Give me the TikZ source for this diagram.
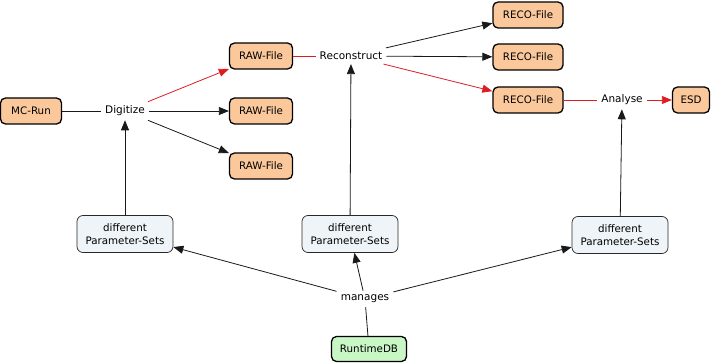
\documentclass[tikz,border=0pt]{standalone}
\usepackage{fontspec}
\setmainfont{DejaVu Sans}
\usetikzlibrary{arrows.meta}
\definecolor{filefill}{RGB}{250,200,155}
\definecolor{paramfill}{RGB}{238,244,247}
\definecolor{dbfill}{RGB}{200,246,196}
\definecolor{redline}{RGB}{220,30,35}
\definecolor{edgegray}{RGB}{40,40,40}
\tikzset{
  filebox/.style={draw=black, line width=1.3pt, fill=filefill, rounded corners=5pt,
    minimum height=26pt, inner xsep=5pt, font=\fontsize{10.3}{12}\selectfont},
  parambox/.style={draw=edgegray, line width=0.7pt, fill=paramfill, rounded corners=6pt,
    minimum height=37pt, minimum width=96pt, align=center, inner xsep=4pt, font=\fontsize{10.3}{12.5}\selectfont},
  dbbox/.style={draw=black, line width=1.3pt, fill=dbfill, rounded corners=5pt,
    minimum height=25pt, minimum width=75pt, font=\fontsize{10.3}{12}\selectfont},
  verb/.style={inner sep=4pt, font=\fontsize{10.5}{12}\selectfont},
  conn/.style={draw=black!90, line width=0.8pt},
  arr/.style={conn, -{Triangle[length=10pt,width=8pt]}},
  redconn/.style={draw=redline, line width=0.8pt},
  redarr/.style={redconn, -{Triangle[length=10pt,width=8pt]}, color=redline},
}
\begin{document}
\begin{tikzpicture}[x=1pt,y=-1pt]
\useasboundingbox (0,0) rectangle (711,363);
\node[filebox, minimum width=61pt] (mc) at (31,111) {MC-Run};
\node[verb] (dig) at (125,111) {Digitize};
\node[filebox, minimum width=63pt] (raw1) at (261,56) {RAW-File};
\node[filebox, minimum width=63pt] (raw2) at (261,111) {RAW-File};
\node[filebox, minimum width=63pt] (raw3) at (261,166) {RAW-File};
\node[verb] (rec) at (351,56) {Reconstruct};
\node[filebox, minimum width=70pt] (reco1) at (528,15) {RECO-File};
\node[filebox, minimum width=70pt] (reco2) at (528,57) {RECO-File};
\node[filebox, minimum width=70pt] (reco3) at (528,100) {RECO-File};
\node[verb] (ana) at (622,100) {Analyse};
\node[filebox, minimum width=37pt, inner xsep=3pt] (esd) at (691,100) {ESD};
\node[parambox] (p1) at (125,234) {different\\Parameter-Sets};
\node[parambox] (p2) at (350,234) {different\\Parameter-Sets};
\node[parambox] (p3) at (620,235) {different\\Parameter-Sets};
\node[verb] (man) at (365,299) {manages};
\node[dbbox] (db) at (369,349) {RuntimeDB};

\draw[conn] (mc) -- (dig);
\draw[redarr] (dig) -- (raw1);
\draw[arr] (dig) -- (raw2);
\draw[arr] (dig) -- (raw3);
\draw[arr] (p1) -- (dig);
\draw[redconn] (raw1) -- (rec);
\draw[arr] (rec) -- (reco1);
\draw[arr] (rec) -- (reco2);
\draw[redarr] (rec) -- (reco3);
\draw[arr] (p2) -- (rec);
\draw[redconn] (reco3) -- (ana);
\draw[redarr] (ana) -- (esd);
\draw[arr] (p3) -- (ana);
\draw[conn] (db) -- (man);
\draw[arr] (man) -- (p1);
\draw[arr] (man) -- (p2);
\draw[arr] (man) -- (p3);
\end{tikzpicture}
\end{document}
